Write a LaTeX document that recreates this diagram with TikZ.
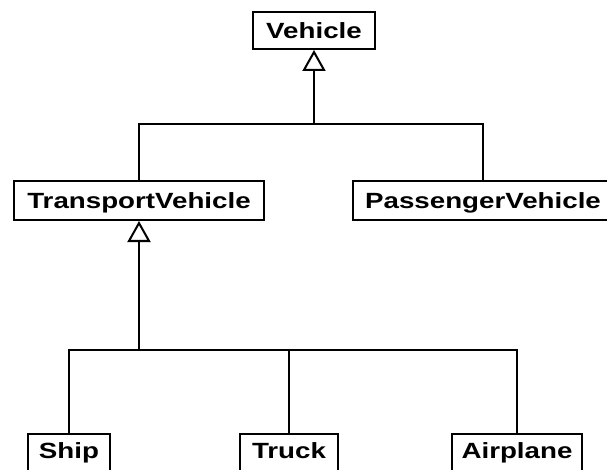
\documentclass[tikz,border=0pt]{standalone}
\usepackage{graphicx}
\usepackage{fontspec}
\setmainfont{Liberation Sans}
\usepackage{tikz}
\usetikzlibrary{arrows.meta}

\newcommand{\clsname}[1]{\scalebox{1.26}[1]{#1}}

\begin{document}
\begin{tikzpicture}[x=1pt,y=-1pt,
    cls/.style={draw,line width=2pt,fill=white,inner sep=0pt,
      minimum height=38pt,text height=16pt,text depth=0.5pt,
      font=\bfseries\fontsize{22}{26}\selectfont},
    leaf/.style={cls,minimum height=39pt,text depth=7pt},
    inherit/.style={line width=2pt,-{Triangle[open,length=21pt,width=23pt]}},
    link/.style={line width=2pt}]
    \useasboundingbox (0,0) rectangle (607,470);
    \clip (0,0) rectangle (607,470);
    \node[cls,minimum width=122pt,minimum height=37pt] (veh) at (314,30.5) {\clsname{Vehicle}};
    \node[cls,minimum width=250pt,minimum height=39pt] (tv) at (139,200.5) {\clsname{TransportVehicle}};
    \node[cls,minimum width=260pt,minimum height=39pt] (pv) at (483,200.5) {\clsname{PassengerVehicle}};
    \node[leaf,minimum width=82pt] (ship) at (69,453.5) {\clsname{Ship}};
    \node[leaf,minimum width=98pt] (truck) at (289,453.5) {\clsname{Truck}};
    \node[leaf,minimum width=130pt] (plane) at (517,453.5) {\clsname{Airplane}};
    % upper level
    \coordinate (j1) at (veh.south |- 0,124);
    \draw[inherit] (j1) -- (veh.south);
    \draw[link] (tv.north) |- (j1) -| (pv.north);
    % lower level
    \coordinate (j2) at (tv.south |- 0,350);
    \draw[inherit] (j2) -- (tv.south);
    \draw[link] (ship.north) |- (j2) -| (plane.north);
    \draw[link] (truck.north) -- (truck.north |- j2);
\end{tikzpicture}
\end{document}
